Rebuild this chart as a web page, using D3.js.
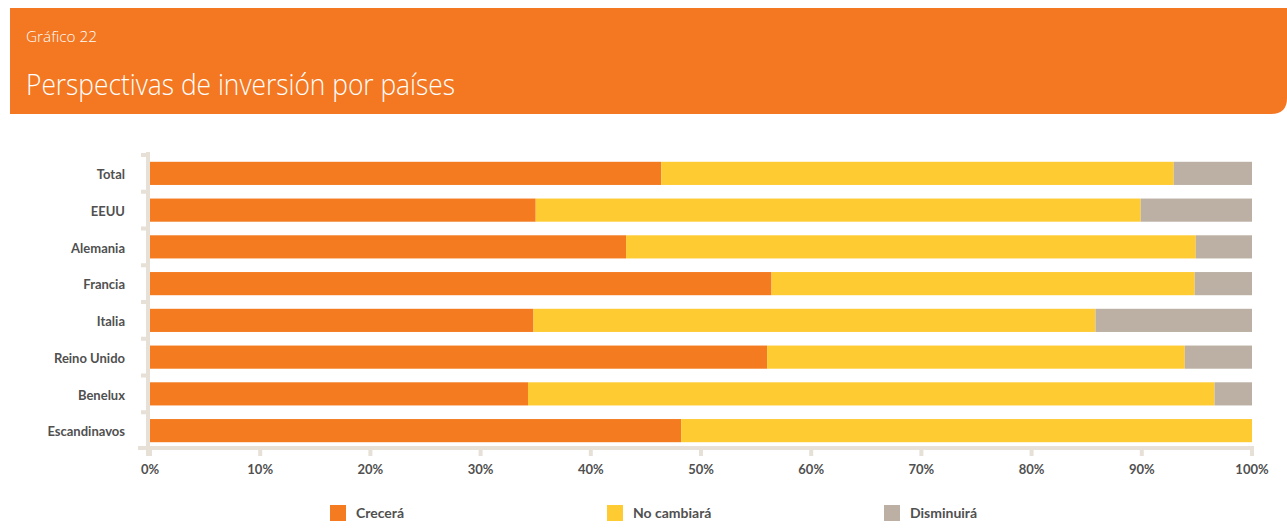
<!DOCTYPE html>
<html>
<head>
<meta charset="utf-8">
<script src="https://cdn.jsdelivr.net/npm/d3@7"></script>
<style>
  body { margin: 0; background: #fff; }
  svg { display: block; }
</style>
</head>
<body>
<div id="chart"></div>
<script>
const countries = ["Total", "EEUU", "Alemania", "Francia", "Italia", "Reino Unido", "Benelux", "Escandinavos"];
const crecera = [46.4, 35.0, 43.2, 56.4, 34.8, 56.0, 34.3, 48.2];
const noCambiara = [46.5, 54.9, 51.7, 38.4, 51.0, 37.9, 62.3, 51.8];
const disminuira = [7.1, 10.1, 5.1, 5.2, 14.2, 6.1, 3.4, 0];
const seriesNames = ["Crecerá", "No cambiará", "Disminuirá"];
const seriesColors = ["#F47B20", "#FFCB33", "#BCB0A4"];
const xTicks = [0, 10, 20, 30, 40, 50, 60, 70, 80, 90, 100];

const width = 1287, height = 530;
const svg = d3.select("#chart").append("svg")
    .attr("width", width)
    .attr("height", height);

// header band with rounded bottom-right corner
const hx0 = 10, hy0 = 8, hx1 = 1287, hy1 = 114, r = 16;
svg.append("path")
    .attr("d", `M${hx0},${hy0}H${hx1}V${hy1 - r}Q${hx1},${hy1} ${hx1 - r},${hy1}H${hx0}Z`)
    .attr("fill", "#F47721");

svg.append("text")
    .attr("x", 26).attr("y", 42)
    .attr("fill", "#fff")
    .attr("textLength", 71)
    .attr("lengthAdjust", "spacingAndGlyphs")
    .style("font-family", "'Open Sans', sans-serif")
    .style("font-weight", 300)
    .style("font-size", "15px")
    .text("Gráfico 22");

svg.append("text")
    .attr("x", 26).attr("y", 95)
    .attr("fill", "#fff")
    .attr("textLength", 429)
    .attr("lengthAdjust", "spacingAndGlyphs")
    .style("font-family", "'Open Sans', sans-serif")
    .style("font-weight", 300)
    .style("font-size", "30px")
    .text("Perspectivas de inversión por países");

// data table for stacking
const rows = countries.map((c, i) => ({
    country: c,
    "Crecerá": crecera[i],
    "No cambiará": noCambiara[i],
    "Disminuirá": disminuira[i]
}));
const stacked = d3.stack().keys(seriesNames)(rows);

const x = d3.scaleLinear().domain([0, 100]).range([150, 1252]);
const y = d3.scaleBand().domain(countries).range([155, 449]).paddingInner(0.37).paddingOuter(0.185);
const color = d3.scaleOrdinal().domain(seriesNames).range(seriesColors);

const axisColor = "#E6E0D7";
const labelColor = "#505050";
const labelFont = "Lato, 'Open Sans', sans-serif";

// y axis line and ticks at band boundaries
svg.append("rect")
    .attr("x", 146).attr("y", 152)
    .attr("width", 4).attr("height", 304)
    .attr("fill", axisColor);

const step = y.step();
const boundaries = d3.range(countries.length).map(i => y(countries[i]) - (step - y.bandwidth()) / 2);
svg.selectAll(".ytick")
    .data(boundaries)
    .enter().append("rect")
    .attr("class", "ytick")
    .attr("x", 141).attr("y", d => d - 2)
    .attr("width", 7).attr("height", 4)
    .attr("fill", axisColor);

// x axis line and ticks
svg.append("rect")
    .attr("x", 138).attr("y", 446)
    .attr("width", 1116).attr("height", 4)
    .attr("fill", axisColor);

svg.selectAll(".xtick")
    .data(xTicks)
    .enter().append("rect")
    .attr("class", "xtick")
    .attr("x", d => x(d) - 2).attr("y", 446)
    .attr("width", 4).attr("height", 10)
    .attr("fill", axisColor);

svg.selectAll(".xlabel")
    .data(xTicks)
    .enter().append("text")
    .attr("class", "xlabel")
    .attr("x", d => x(d))
    .attr("y", 474)
    .attr("text-anchor", "middle")
    .attr("fill", labelColor)
    .style("font-family", labelFont)
    .style("font-weight", 700)
    .style("font-size", "13px")
    .text(d => d + "%");

// bars
svg.selectAll(".series")
    .data(stacked)
    .enter().append("g")
    .attr("class", "series")
    .attr("fill", d => color(d.key))
    .selectAll("rect")
    .data(d => d)
    .enter().append("rect")
    .attr("x", d => x(d[0]))
    .attr("y", d => y(d.data.country))
    .attr("width", d => x(d[1]) - x(d[0]))
    .attr("height", y.bandwidth());

// country labels
svg.selectAll(".ylabel")
    .data(countries)
    .enter().append("text")
    .attr("class", "ylabel")
    .attr("x", 125)
    .attr("y", d => y(d) + y.bandwidth() / 2)
    .attr("dy", "0.45em")
    .attr("text-anchor", "end")
    .attr("fill", labelColor)
    .style("font-family", labelFont)
    .style("font-weight", 700)
    .style("font-size", "13px")
    .text(d => d);

// legend
const legend = svg.selectAll(".legend")
    .data(seriesNames)
    .enter().append("g")
    .attr("class", "legend")
    .attr("transform", (d, i) => `translate(${330 + i * 277},505)`);

legend.append("rect")
    .attr("width", 16).attr("height", 16)
    .attr("fill", d => color(d));

legend.append("text")
    .attr("x", 26).attr("y", 8)
    .attr("dy", "0.35em")
    .attr("fill", labelColor)
    .style("font-family", labelFont)
    .style("font-weight", 700)
    .style("font-size", "14px")
    .text(d => d);
</script>
</body>
</html>
